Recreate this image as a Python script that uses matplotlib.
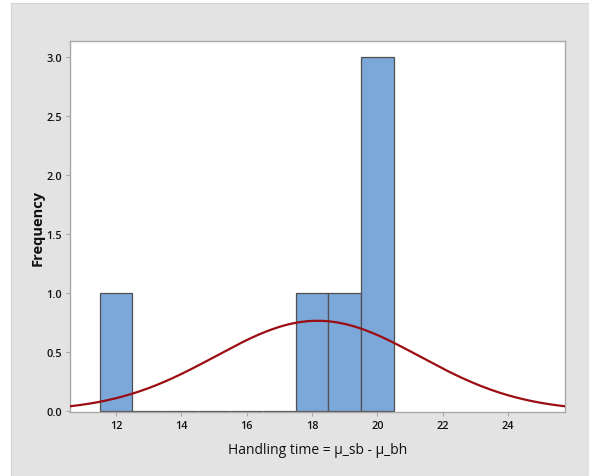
import numpy as np
import matplotlib
matplotlib.use('Agg')
import matplotlib.pyplot as plt
from matplotlib.patches import Rectangle

# histogram bins (left edges) and counts
bin_left = [11.5, 12.5, 13.5, 14.5, 15.5, 16.5, 17.5, 18.5, 19.5]
counts = [1, 0, 0, 0, 0, 0, 1, 1, 3]
bin_width = 1.0

# fitted normal
fit_mean = 18.17
fit_sd = 3.125
n_obs = 6

x_ticks = [12, 14, 16, 18, 20, 22, 24]
y_ticks = [0.0, 0.5, 1.0, 1.5, 2.0, 2.5, 3.0]

plt.rcParams['font.family'] = ['Open Sans', 'DejaVu Sans']

fig = plt.figure(figsize=(5.89, 4.77), dpi=100)
fig.patch.set_facecolor('white')
bg = Rectangle((0.0187, 0), 1.0, 0.9916, transform=fig.transFigure,
               facecolor='#e3e3e3', edgecolor='#d2d2d2', linewidth=0.8, zorder=-10)
fig.patches.append(bg)

ax = fig.add_axes([0.1189, 0.1342, 0.9593 - 0.1189, 0.912 - 0.1342])
ax.set_facecolor('white')

ax.bar(bin_left, counts, width=bin_width, align='edge',
       color='#7ba7d9', edgecolor='#505050', linewidth=0.9, zorder=2)

xs = np.linspace(10.59, 25.75, 300)
ys = n_obs * bin_width / (fit_sd * np.sqrt(2 * np.pi)) * np.exp(-0.5 * ((xs - fit_mean) / fit_sd) ** 2)
ax.plot(xs, ys, color='#9b0d12', linewidth=1.6, zorder=3)

ax.set_xlim(10.59, 25.75)
ax.set_ylim(-0.008, 3.14)
ax.set_xticks(x_ticks)
ax.set_yticks(y_ticks)
ax.set_xticklabels([str(t) for t in x_ticks], fontweight='semibold')
ax.set_yticklabels(['%.1f' % t for t in y_ticks], fontweight='semibold')

for s in ax.spines.values():
    s.set_color('#a8a8a8')
    s.set_linewidth(1.0)
ax.tick_params(axis='both', colors='#a8a8a8', labelcolor='#111111', labelsize=7.8,
               length=3, width=0.8, pad=3)

ax.set_xlabel('Handling time = µ_sb - µ_bh', fontsize=10, fontweight='medium',
              color='#111111', labelpad=8)
ax.set_ylabel('Frequency', fontsize=10.5, fontweight='bold', color='#111111', labelpad=1)

fig.savefig('out.png', dpi=100)
